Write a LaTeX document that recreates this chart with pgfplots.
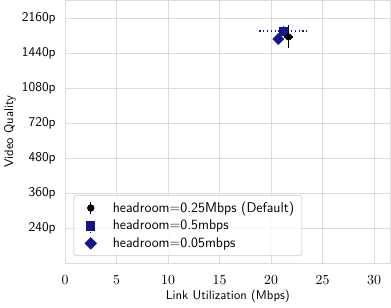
\documentclass[border=0pt]{standalone}
\usepackage{pgfplots}
\pgfplotsset{compat=1.18}
\renewcommand{\familydefault}{\sfdefault}
\definecolor{gridgrey}{RGB}{220,220,220}
\definecolor{navyb}{RGB}{20,20,140}
\begin{document}
\begin{tikzpicture}
\begin{axis}[
  scale only axis,
  width=257.9pt, height=208.2pt,
  xmin=0, xmax=31.6, ymin=0, ymax=7.5,
  xtick={0,5,...,30},
  ytick={1,2,3,4,5,6,7},
  yticklabels={240p,360p,480p,720p,1080p,1440p,2160p},
  major tick length=0pt,
  grid=major,
  grid style={gridgrey, line width=0.8pt},
  axis line style={gridgrey, line width=0.8pt},
  ticklabel style={font=\fontsize{10.6}{12.5}\selectfont},
  xticklabel style={yshift=-6pt},
  yticklabel style={xshift=-4pt},
  label style={font=\fontsize{10}{12}\selectfont},
  xlabel={Link Utilization (Mbps)},
  ylabel={Video Quality},
  xlabel style={yshift=2pt},
  ylabel style={yshift=-2pt},
  legend style={at={(0.025,0.027)}, anchor=south west, draw=gridgrey, line width=0.8pt, rounded corners=2pt, fill=white, fill opacity=0.8, text opacity=1, font=\fontsize{11.2}{13}\selectfont, row sep=0.6pt, inner xsep=4pt, inner ysep=3pt},
  legend cell align=left,
]
\addplot[black, only marks, mark=*, mark size=2.5pt,
  mark options={draw=black, fill=black},
  legend image code/.code={
    \path (0cm,0cm) (0.85cm,0cm);
    \draw[black, line width=1pt, sharp corners, draw opacity=1] (0.32cm,-4.5pt) -- (0.32cm,4.5pt);
    \fill[black, fill opacity=1] (0.32cm,0cm) circle (2.5pt);},
  error bars/.cd, x dir=both, y dir=both, x explicit, y explicit,
  error mark=none, error bar style={color=black, line width=1pt}]
  coordinates {(21.7,6.46) +- (0.4,0.33)};
\addlegendentry{headroom=0.25Mbps (Default)}
\addplot[navyb, only marks, mark=square*, mark size=3.3pt,
  mark options={draw=navyb, fill=navyb},
  legend image code/.code={
    \path (0cm,0cm) (0.85cm,0cm);
    \draw[navyb, line width=1pt, dotted, sharp corners, draw opacity=1] (0.32cm,-6pt) -- (0.32cm,6pt);
    \fill[navyb, sharp corners, fill opacity=1] (0.32cm-3.3pt,-3.3pt) rectangle (0.32cm+3.3pt,3.3pt);},
  error bars/.cd, x dir=both, y dir=both, x explicit, y explicit,
  error mark=none, error bar style={color=navyb, line width=1pt, dotted}]
  coordinates {(21.2,6.63) +- (2.55,0.15)};
\addlegendentry{headroom=0.5mbps}
\addplot[navyb, only marks, mark=square*, mark size=3.1pt,
  mark options={draw=navyb, fill=navyb, rotate=45},
  legend image code/.code={
    \path (0cm,0cm) (0.85cm,0cm);
    \fill[navyb, sharp corners, fill opacity=1] (0.32cm,-4.4pt) -- (0.32cm+4.4pt,0pt) -- (0.32cm,4.4pt) -- (0.32cm-4.4pt,0pt) -- cycle;},
  error bars/.cd, x dir=both, y dir=both, x explicit, y explicit,
  error mark=none, error bar style={color=navyb, line width=1pt, dotted}]
  coordinates {(20.7,6.40) +- (0.2,0.2)};
\addlegendentry{headroom=0.05mbps}
\addplot[black, only marks, mark=*, mark size=2.5pt, forget plot,
  mark options={draw=black, fill=black},
  error bars/.cd, x dir=both, y dir=both, x explicit, y explicit,
  error mark=none, error bar style={color=black, line width=1pt}]
  coordinates {(21.7,6.46) +- (0.4,0.33)};
\end{axis}
\end{tikzpicture}
\end{document}
